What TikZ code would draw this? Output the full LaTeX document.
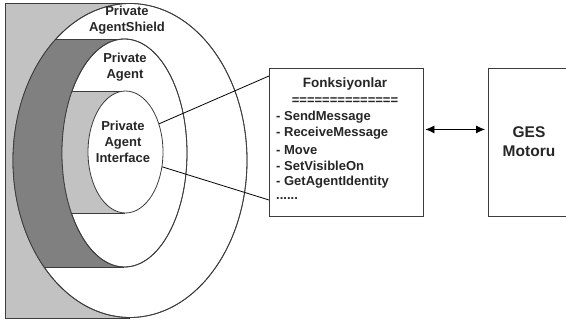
\documentclass[tikz,border=0pt]{standalone}
\usepackage{fontspec}
\setmainfont{Liberation Sans}
\usetikzlibrary{shapes.geometric,arrows.meta}
\definecolor{lgray}{RGB}{194,194,194}
\definecolor{dgray}{RGB}{128,128,128}
\definecolor{edge}{RGB}{60,60,60}
\begin{document}
\begin{tikzpicture}[x=1pt,y=-1pt,
  lbl/.style={font=\fontsize{13}{16}\selectfont\bfseries, align=center, inner sep=0pt, text=black!85},
  item/.style={font=\fontsize{13}{16}\selectfont\bfseries, anchor=west, inner sep=0pt, text=black!85},
  ring/.style={ellipse, draw=edge, line width=0.8pt, fill=white, inner sep=0pt},
  boxstyle/.style={draw=edge, line width=0.9pt, fill=white, inner sep=0pt, anchor=north west},
  conn/.style={draw=black, line width=0.8pt}]
\clip (0,0) rectangle (566,323);
\fill[white] (0,0) rectangle (566,323);
% outer cylinder back
\filldraw[fill=lgray, draw=edge, line width=0.8pt] (130,3) -- (5,3) -- (5,318) -- (130,318);
\node[ring, minimum width=234pt, minimum height=314pt] (outer) at (130,160.5) {};
\begin{scope}
  \clip (130,160.5) ellipse [x radius=117pt, y radius=157pt];
  \filldraw[fill=dgray, draw=edge, line width=0.8pt] (124,39) -- (0,39) -- (0,267) -- (124,267);
\end{scope}
\draw[edge, line width=0.8pt] (130,160.5) ellipse [x radius=117pt, y radius=157pt];
\node[ring, minimum width=125pt, minimum height=228pt] (middle) at (124.5,153) {};
\begin{scope}
  \clip (124.5,153) ellipse [x radius=62.5pt, y radius=114pt];
  \filldraw[fill=lgray, draw=edge, line width=0.8pt] (125,91) -- (0,91) -- (0,213) -- (125,213);
\end{scope}
\draw[edge, line width=0.8pt] (124.5,153) ellipse [x radius=62.5pt, y radius=114pt];
\node[ring, minimum width=75pt, minimum height=122pt] (inner) at (125.5,152) {};
% labels
\node[lbl] (lshield) at (127,20.5) {Private\\AgentShield};
\node[lbl] (lagent) at (125,67.5) {Private\\Agent};
\node[lbl] (linter) at (123,141.5) {Private\\Agent\\Interface};
% function box
\node[boxstyle, minimum width=154pt, minimum height=148pt] (fonk) at (269,68) {};
\node[lbl, font=\fontsize{13.5}{16}\selectfont\bfseries] (ftitle) at (345,84) {Fonksiyonlar};
\node[lbl] (fsep) at (345,101) {==============};
\node[item] (f1) at (276,117) {- SendMessage};
\node[item] (f2) at (276,133) {- ReceiveMessage};
\node[item] (f3) at (276,150) {- Move};
\node[item] (f4) at (276,166) {- SetVisibleOn};
\node[item] (f5) at (276,182) {- GetAgentIdentity};
\node[item] (f6) at (276,199) {......};
% GES box
\node[boxstyle, minimum width=100pt, minimum height=148pt] (ges) at (487.5,68) {};
\node[lbl, font=\fontsize{15.5}{19}\selectfont\bfseries] (gestext) at (529,142) {GES\\Motoru};
% connectors
\coordinate (c1) at (269,76);
\coordinate (c2) at (269,200);
\draw[conn] (inner.40) -- (c1);
\draw[conn] (inner.-22) -- (c2);
\draw[conn, {Latex[length=9pt,width=8pt]}-{Latex[length=9pt,width=8pt]}, shorten <=1.5pt, shorten >=2.5pt]
  ([yshift=13pt]fonk.east) -- ([yshift=13pt]ges.west);
\end{tikzpicture}
\end{document}
